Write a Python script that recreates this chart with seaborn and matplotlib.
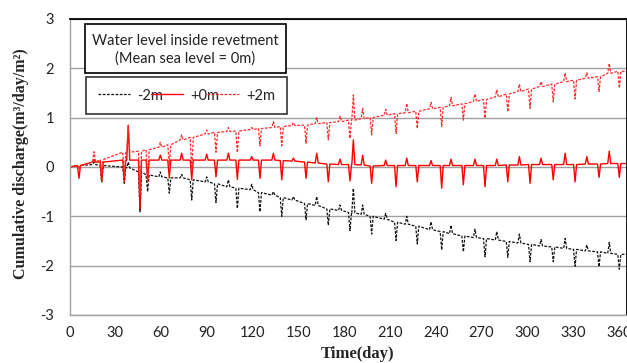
import matplotlib
matplotlib.use("Agg")
import matplotlib.pyplot as plt
from matplotlib.patches import Rectangle
import seaborn as sns
import pandas as pd

# event days (dips and spikes of the tidal cycle)
event_day = [6.2, 16.1, 21.1, 35.9, 38.5, 46.2, 51.2, 59.5, 65.4, 73.5,
             80.1, 89.9, 96.0, 104.1, 110.0, 119.4, 124.8, 133.6, 139.1, 146.7,
             155.0, 162.0, 169.6, 177.3, 183.8, 186.0, 192.1, 198.0, 207.2, 214.0,
             221.0, 227.9, 236.9, 243.9, 250.0, 258.1, 265.7, 272.3, 280.0, 287.2,
             294.8, 301.8, 309.0, 317.0, 324.8, 331.3, 339.0, 347.0, 353.7, 360.3]

# -2m : baseline and peak value at each event
m2_base = [0.03, 0.05, 0.03, 0.0, -0.02, -0.1, -0.16, -0.2, -0.22, -0.22,
           -0.26, -0.3, -0.34, -0.4, -0.43, -0.46, -0.52, -0.57, -0.62, -0.67,
           -0.74, -0.78, -0.85, -0.88, -0.92, -0.93, -0.96, -1.0, -1.06, -1.12,
           -1.16, -1.2, -1.27, -1.31, -1.35, -1.4, -1.43, -1.45, -1.48, -1.51,
           -1.54, -1.57, -1.6, -1.62, -1.65, -1.67, -1.7, -1.72, -1.75, -1.77]
m2_peak = [-0.05, 0.1, -0.3, -0.33, 0.1, -0.91, -0.5, -0.1, -0.53, -0.15,
           -0.67, -0.2, -0.72, -0.26, -0.84, -0.35, -0.91, -0.5, -1.0, -0.6,
           -1.07, -0.6, -1.18, -0.77, -1.29, -0.43, -0.77, -1.36, -0.94, -1.49,
           -1.0, -1.56, -1.11, -1.68, -1.18, -1.72, -1.26, -1.82, -1.31, -1.83,
           -1.36, -1.92, -1.47, -1.92, -1.45, -2.01, -1.58, -2.02, -1.53, -2.07]

# +0m
z_base = [0.03, 0.1, 0.1, 0.14, 0.14, 0.14, 0.14, 0.14, 0.14, 0.14,
          0.14, 0.14, 0.14, 0.14, 0.14, 0.14, 0.14, 0.14, 0.13, 0.12,
          0.1, 0.08, 0.06, 0.05, 0.05, 0.05, 0.04, 0.02, 0.03, 0.03,
          0.03, 0.03, 0.03, 0.03, 0.03, 0.03, 0.03, 0.03, 0.03, 0.04,
          0.04, 0.05, 0.05, 0.05, 0.05, 0.05, 0.06, 0.06, 0.07, 0.07]
z_peak = [-0.23, 0.15, -0.3, -0.3, 0.84, -0.85, -0.26, 0.24, -0.22, 0.28,
          -0.26, 0.26, -0.2, 0.28, -0.25, 0.21, -0.23, 0.28, -0.26, 0.18,
          -0.23, 0.28, -0.3, 0.16, -0.28, 0.55, 0.24, -0.33, 0.14, -0.4,
          0.18, -0.3, 0.13, -0.43, 0.16, -0.36, 0.16, -0.4, 0.16, -0.3,
          0.21, -0.33, 0.18, -0.26, 0.28, -0.3, 0.21, -0.21, 0.32, -0.21]

# +2m
p2_base = [0.03, 0.1, 0.15, 0.3, 0.3, 0.32, 0.35, 0.4, 0.45, 0.55,
           0.6, 0.67, 0.7, 0.72, 0.73, 0.76, 0.78, 0.8, 0.82, 0.84,
           0.85, 0.88, 0.9, 0.92, 0.95, 0.95, 0.98, 1.0, 1.05, 1.08,
           1.1, 1.13, 1.18, 1.21, 1.24, 1.28, 1.33, 1.37, 1.42, 1.48,
           1.53, 1.58, 1.63, 1.68, 1.73, 1.76, 1.8, 1.83, 1.9, 1.94]
p2_peak = [-0.05, 0.31, -0.15, -0.2, 0.85, -0.55, -0.3, 0.5, 0.04, 0.65,
           -0.08, 0.75, 0.3, 0.8, 0.29, 0.8, 0.43, 0.92, 0.43, 0.9,
           0.48, 1.0, 0.55, 1.03, 0.58, 1.46, 1.19, 0.65, 1.17, 0.68,
           1.29, 0.78, 1.31, 0.82, 1.41, 0.95, 1.48, 0.99, 1.56, 1.12,
           1.68, 1.19, 1.73, 1.32, 1.91, 1.38, 1.91, 1.53, 2.1, 1.6]

levels = ["-2m", "+0m", "+2m"]


def build(base, peak, hw=1.0):
    xs, ys = [0.0], [0.0]
    for d, b, p in zip(event_day, base, peak):
        xs += [d - hw, d, d + hw]
        ys += [b, p, b]
    xs.append(365.0)
    ys.append(base[-1])
    return pd.DataFrame({"day": xs, "value": ys})


sns.set_theme(style="white")
plt.rcParams["font.family"] = ["Lato", "DejaVu Sans"]
plt.rcParams["axes.unicode_minus"] = False

fig, ax = plt.subplots(figsize=(6.27, 3.63), dpi=100)
fig.subplots_adjust(left=69.5 / 627, right=626.5 / 627, top=1 - 19 / 363, bottom=1 - 315 / 363)

styles = [
    ("-2m", m2_base, m2_peak, "#111111", (0, (2.2, 1.2)), 0.9),
    ("+0m", z_base, z_peak, "#ff0000", "-", 1.0),
    ("+2m", p2_base, p2_peak, "#ff2a2a", (0, (2.2, 1.2)), 0.9),
]
for name, b, p, col, ls, lw in styles:
    df = build(b, p)
    sns.lineplot(data=df, x="day", y="value", ax=ax, color=col, linestyle=ls,
                 linewidth=lw, label=name, sort=False, estimator=None)

ax.set_xlim(0, 365)
ax.set_ylim(-3, 3)
ax.set_xticks(range(0, 361, 30))
ax.set_yticks(range(-3, 4))
ax.yaxis.grid(True, color="#a0a0a0", linewidth=1.0)
ax.xaxis.grid(False)
ax.set_axisbelow(True)

for s in ["left", "bottom"]:
    ax.spines[s].set_color("#a0a0a0")
    ax.spines[s].set_linewidth(1.0)
for s in ["top", "right"]:
    ax.spines[s].set_color("black")
    ax.spines[s].set_linewidth(1.3)

ax.tick_params(axis="both", direction="out", length=3, width=1, color="#a0a0a0",
               labelsize=10.5, labelcolor="#222222")
ax.tick_params(axis="y", pad=8)
ax.tick_params(axis="x", pad=5)

ax.set_xlabel("Time(day)", fontsize=12, fontweight="bold", family="Liberation Serif")
ax.set_ylabel("Cumulative discharge(m³/day/m²)", fontsize=11.5, fontweight="bold",
              family="Liberation Serif")
ax.xaxis.set_label_coords(0.517, -0.105)
ax.yaxis.set_label_coords(-0.073, 0.51)

# title box
fig.patches.append(Rectangle((85 / 627, 1 - 73 / 363), 201 / 627, 49 / 363,
                             transform=fig.transFigure, facecolor="white",
                             edgecolor="black", linewidth=1.2, zorder=5))
fig.text(185.5 / 627, 1 - 41 / 363, "Water level inside revetment", ha="center",
         va="center", fontsize=10.5, color="#222222", zorder=6)
fig.text(185.5 / 627, 1 - 59 / 363, "(Mean sea level = 0m)", ha="center",
         va="center", fontsize=10.5, color="#222222", zorder=6)

handles, labels = ax.get_legend_handles_labels()
leg = ax.legend(handles, labels, ncol=3, loc="center",
                bbox_to_anchor=(86 / 627, 1 - 116 / 363, 201 / 627, 41 / 363),
                bbox_transform=fig.transFigure, mode="expand", frameon=True,
                fancybox=False, edgecolor="black", fontsize=10.5,
                handlelength=2.2, handletextpad=0.5, columnspacing=0.6,
                borderpad=0.8, borderaxespad=0)
leg.get_frame().set_linewidth(1.2)
for t in leg.get_texts():
    t.set_color("#222222")

fig.savefig("out.png", dpi=100)
